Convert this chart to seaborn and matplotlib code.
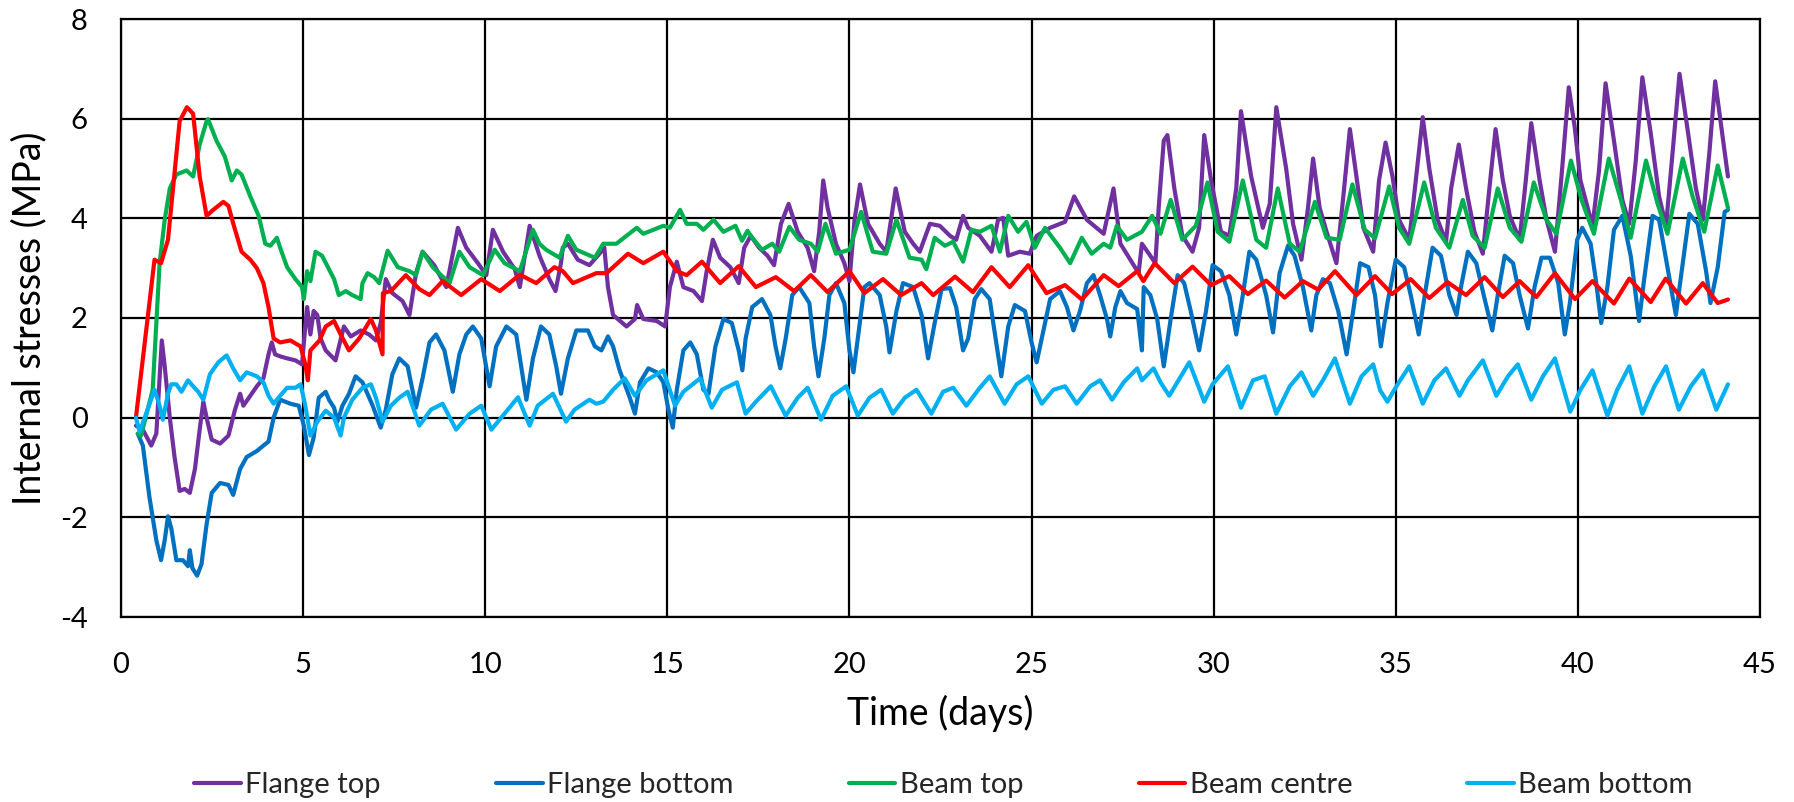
import numpy as np
import pandas as pd
import matplotlib
matplotlib.use("Agg")
import matplotlib.pyplot as plt
import seaborn as sns

# ---------------- data ----------------
series_names = ["Flange top", "Flange bottom", "Beam top", "Beam centre", "Beam bottom"]
series_colors = ["#7030A0", "#0070C0", "#00B050", "#FF0000", "#00B0F0"]

x_ticks = [0, 5, 10, 15, 20, 25, 30, 35, 40, 45]
y_ticks = [-4, -2, 0, 2, 4, 6, 8]

flange_top_t = [0.41, 0.6, 0.83, 0.97, 1.12, 1.2, 1.34, 1.47, 1.61, 1.75, 1.89, 2.03, 2.16, 2.26, 2.35, 2.49, 2.72, 2.95, 3.13, 3.27, 3.36, 3.55, 3.73, 3.91, 4.05, 4.14, 4.23, 4.37, 4.56, 4.79, 4.97, 5.06, 5.11, 5.2, 5.29, 5.39, 5.48, 5.62, 5.89, 6.12, 6.31, 6.58, 6.81, 7.0, 7.13, 7.27, 7.45, 7.73, 7.92, 8.1, 8.28, 8.6, 8.93, 9.06, 9.25, 9.48, 9.8, 10.03, 10.21, 10.49, 10.81, 10.95, 11.22, 11.49, 11.76, 11.93, 12.08, 12.13, 12.27, 12.54, 12.86, 13.09, 13.27, 13.37, 13.51, 13.88, 14.11, 14.17, 14.34, 14.71, 14.94, 15.07, 15.26, 15.44, 15.72, 15.95, 16.08, 16.25, 16.45, 16.73, 16.96, 17.11, 17.29, 17.52, 17.75, 17.93, 18.12, 18.33, 18.58, 18.85, 19.03, 19.17, 19.28, 19.4, 19.63, 19.86, 20.0, 20.14, 20.29, 20.51, 20.83, 21.01, 21.27, 21.52, 21.75, 21.93, 22.21, 22.48, 22.76, 22.93, 23.12, 23.26, 23.58, 23.9, 24.08, 24.22, 24.36, 24.68, 24.95, 25.14, 25.51, 25.92, 26.17, 26.52, 26.98, 27.25, 27.44, 27.71, 27.94, 28.03, 28.26, 28.4, 28.49, 28.63, 28.73, 28.92, 29.14, 29.42, 29.6, 29.74, 29.93, 30.2, 30.43, 30.62, 30.75, 31.03, 31.35, 31.54, 31.72, 31.99, 32.18, 32.41, 32.59, 32.73, 32.91, 33.1, 33.37, 33.56, 33.74, 33.92, 34.11, 34.38, 34.54, 34.72, 34.91, 35.09, 35.37, 35.55, 35.74, 35.92, 36.15, 36.38, 36.52, 36.73, 36.93, 37.16, 37.39, 37.57, 37.74, 37.94, 38.13, 38.4, 38.57, 38.72, 38.95, 39.14, 39.37, 39.55, 39.75, 39.92, 40.07, 40.4, 40.58, 40.76, 40.99, 41.22, 41.41, 41.59, 41.77, 42.0, 42.23, 42.42, 42.6, 42.79, 43.01, 43.24, 43.43, 43.61, 43.77, 43.93, 44.12]
flange_top_v = [-0.16, -0.24, -0.56, -0.32, 1.55, 1.03, 0.0, -0.79, -1.47, -1.43, -1.51, -1.03, -0.24, 0.32, 0.0, -0.44, -0.52, -0.36, 0.16, 0.48, 0.24, 0.44, 0.63, 0.79, 1.27, 1.51, 1.27, 1.23, 1.19, 1.15, 1.07, 1.83, 2.22, 1.67, 2.14, 2.06, 1.59, 1.35, 1.15, 1.83, 1.63, 1.75, 1.67, 1.55, 1.9, 2.78, 2.5, 2.34, 2.06, 2.9, 3.33, 3.06, 2.62, 3.1, 3.81, 3.41, 3.1, 2.86, 3.77, 3.33, 2.98, 2.62, 3.85, 3.25, 2.78, 2.54, 3.1, 3.41, 3.49, 3.17, 3.06, 3.25, 3.41, 2.62, 2.06, 1.83, 1.98, 2.26, 1.98, 1.94, 1.83, 2.62, 3.13, 2.62, 2.54, 2.34, 2.94, 3.57, 3.21, 3.02, 2.7, 3.41, 3.65, 3.41, 3.25, 3.06, 3.89, 4.29, 3.73, 3.41, 2.94, 3.73, 4.76, 4.21, 3.49, 3.1, 2.74, 3.97, 4.68, 3.89, 3.49, 3.33, 4.6, 3.73, 3.49, 3.33, 3.89, 3.85, 3.65, 3.57, 4.05, 3.81, 3.65, 3.33, 3.97, 4.01, 3.25, 3.33, 3.29, 3.65, 3.81, 3.93, 4.44, 3.97, 3.69, 4.6, 3.49, 3.17, 2.9, 3.49, 3.25, 3.1, 4.21, 5.56, 5.67, 4.6, 3.65, 3.33, 3.81, 5.67, 4.76, 3.73, 3.65, 4.6, 6.15, 4.84, 3.81, 4.29, 6.23, 5.0, 3.89, 3.17, 4.21, 5.2, 4.21, 3.73, 3.1, 4.44, 5.79, 4.84, 3.81, 3.33, 4.76, 5.52, 4.84, 3.97, 3.57, 4.76, 6.03, 5.0, 3.97, 3.53, 4.6, 5.48, 4.6, 3.73, 3.29, 4.6, 5.79, 4.76, 4.05, 3.57, 4.76, 5.91, 4.76, 3.97, 3.33, 4.84, 6.63, 5.79, 4.76, 3.85, 4.96, 6.71, 5.56, 4.37, 3.89, 5.16, 6.83, 5.71, 4.44, 3.85, 5.32, 6.9, 5.79, 4.6, 3.97, 5.32, 6.75, 5.87, 4.84]

flange_bottom_t = [0.46, 0.6, 0.78, 0.97, 1.1, 1.2, 1.29, 1.38, 1.52, 1.7, 1.84, 1.89, 1.96, 2.09, 2.21, 2.35, 2.49, 2.72, 2.95, 3.08, 3.27, 3.45, 3.73, 3.91, 4.05, 4.19, 4.37, 4.65, 4.88, 5.02, 5.16, 5.29, 5.43, 5.62, 5.71, 5.85, 5.94, 6.08, 6.26, 6.44, 6.63, 6.91, 7.13, 7.27, 7.45, 7.64, 7.87, 8.1, 8.28, 8.47, 8.65, 8.88, 9.11, 9.29, 9.48, 9.66, 9.89, 10.12, 10.3, 10.58, 10.85, 11.13, 11.31, 11.53, 11.76, 11.95, 12.08, 12.27, 12.5, 12.82, 13.01, 13.19, 13.37, 13.51, 13.69, 13.97, 14.11, 14.25, 14.48, 14.71, 14.89, 15.03, 15.15, 15.26, 15.44, 15.63, 15.81, 15.99, 16.13, 16.32, 16.54, 16.77, 16.96, 17.06, 17.15, 17.33, 17.6, 17.83, 17.97, 18.1, 18.25, 18.43, 18.62, 18.9, 19.03, 19.15, 19.31, 19.45, 19.63, 19.86, 20.0, 20.11, 20.23, 20.41, 20.55, 20.83, 21.01, 21.1, 21.29, 21.47, 21.75, 21.98, 22.16, 22.34, 22.53, 22.76, 22.93, 23.12, 23.26, 23.44, 23.62, 23.85, 24.03, 24.17, 24.36, 24.54, 24.82, 25.0, 25.14, 25.28, 25.51, 25.78, 25.97, 26.15, 26.33, 26.52, 26.7, 26.88, 27.07, 27.16, 27.3, 27.44, 27.62, 27.9, 28.03, 28.08, 28.26, 28.45, 28.63, 28.82, 29.01, 29.19, 29.37, 29.6, 29.79, 29.97, 30.2, 30.43, 30.62, 30.8, 30.98, 31.17, 31.44, 31.63, 31.81, 32.04, 32.22, 32.45, 32.68, 32.82, 33.0, 33.19, 33.42, 33.65, 33.83, 34.02, 34.25, 34.43, 34.59, 34.77, 35.0, 35.23, 35.41, 35.63, 35.83, 36.01, 36.24, 36.47, 36.67, 36.79, 36.98, 37.21, 37.44, 37.65, 37.8, 37.99, 38.22, 38.4, 38.63, 38.81, 39.0, 39.23, 39.46, 39.64, 39.78, 39.98, 40.12, 40.35, 40.49, 40.64, 40.81, 40.99, 41.22, 41.45, 41.68, 41.82, 42.05, 42.23, 42.46, 42.69, 42.88, 43.06, 43.29, 43.52, 43.64, 43.84, 44.03, 44.12]
flange_bottom_v = [-0.32, -0.56, -1.59, -2.46, -2.86, -2.46, -1.98, -2.22, -2.86, -2.86, -2.98, -2.66, -3.02, -3.17, -2.94, -2.14, -1.51, -1.31, -1.35, -1.55, -1.03, -0.79, -0.67, -0.56, -0.48, 0.0, 0.36, 0.28, 0.24, -0.16, -0.75, -0.4, 0.4, 0.52, 0.36, 0.2, -0.08, 0.24, 0.48, 0.83, 0.71, 0.24, -0.2, 0.16, 0.87, 1.19, 1.03, 0.2, 0.79, 1.51, 1.67, 1.35, 0.52, 1.27, 1.67, 1.83, 1.59, 0.63, 1.43, 1.83, 1.67, 0.36, 1.19, 1.83, 1.67, 1.03, 0.48, 1.19, 1.75, 1.75, 1.43, 1.35, 1.63, 1.43, 0.95, 0.4, 0.08, 0.71, 0.99, 0.91, 0.71, 0.16, -0.2, 0.56, 1.35, 1.51, 1.27, 0.56, 0.48, 1.43, 1.98, 1.9, 1.35, 0.95, 1.59, 2.22, 2.38, 2.06, 1.43, 0.99, 1.59, 2.46, 2.62, 2.3, 1.43, 0.83, 1.59, 2.46, 2.7, 2.3, 1.35, 0.91, 1.59, 2.62, 2.7, 2.46, 1.83, 1.31, 2.14, 2.7, 2.62, 2.06, 1.19, 1.9, 2.58, 2.6, 2.22, 1.35, 1.59, 2.38, 2.58, 2.38, 1.51, 0.83, 1.83, 2.26, 2.14, 1.51, 1.11, 1.59, 2.38, 2.54, 2.22, 1.75, 2.14, 2.7, 2.86, 2.46, 1.98, 1.63, 2.22, 2.54, 2.3, 2.18, 1.35, 2.62, 2.46, 1.98, 1.03, 1.98, 2.86, 2.7, 2.14, 1.35, 2.14, 3.06, 2.94, 2.46, 1.67, 2.46, 3.33, 3.17, 2.46, 1.71, 2.9, 3.45, 3.25, 2.62, 1.75, 2.46, 2.78, 2.7, 2.14, 1.27, 2.14, 3.1, 3.02, 2.46, 1.43, 2.3, 3.17, 3.02, 2.46, 1.67, 2.62, 3.41, 3.25, 2.46, 2.06, 2.62, 3.33, 3.1, 2.38, 1.75, 2.46, 3.25, 3.1, 2.46, 1.79, 2.62, 3.21, 3.21, 2.7, 1.67, 2.3, 3.57, 3.81, 3.49, 2.78, 1.9, 2.62, 3.77, 4.05, 3.25, 1.94, 2.78, 4.05, 3.97, 3.02, 2.06, 3.1, 4.09, 3.89, 2.94, 2.3, 3.02, 4.13, 4.17]

beam_top_t = [0.46, 0.55, 0.87, 1.06, 1.2, 1.34, 1.52, 1.8, 1.98, 2.16, 2.35, 2.39, 2.62, 2.85, 3.04, 3.18, 3.31, 3.55, 3.78, 3.96, 4.1, 4.28, 4.37, 4.56, 4.79, 4.97, 5.02, 5.11, 5.2, 5.34, 5.52, 5.85, 5.98, 6.17, 6.35, 6.58, 6.63, 6.77, 6.95, 7.09, 7.32, 7.6, 7.92, 8.1, 8.28, 8.56, 9.02, 9.29, 9.57, 9.94, 10.26, 10.53, 10.95, 11.31, 11.49, 11.67, 12.04, 12.27, 12.5, 13.01, 13.24, 13.6, 13.88, 14.16, 14.34, 14.89, 15.07, 15.35, 15.53, 15.81, 15.99, 16.27, 16.54, 16.87, 17.05, 17.2, 17.33, 17.6, 17.88, 18.07, 18.35, 18.62, 18.94, 19.13, 19.34, 19.63, 20.0, 20.32, 20.64, 21.01, 21.29, 21.65, 21.98, 22.11, 22.34, 22.62, 22.85, 23.12, 23.35, 23.58, 23.9, 24.13, 24.36, 24.63, 24.86, 25.09, 25.37, 25.78, 26.06, 26.38, 26.65, 26.98, 27.16, 27.34, 27.62, 28.03, 28.31, 28.54, 28.82, 29.14, 29.51, 29.83, 30.11, 30.43, 30.8, 31.17, 31.44, 31.76, 32.09, 32.36, 32.78, 33.1, 33.46, 33.81, 34.15, 34.43, 34.82, 35.09, 35.37, 35.78, 36.1, 36.47, 36.84, 37.11, 37.44, 37.8, 38.13, 38.45, 38.79, 39.14, 39.41, 39.81, 40.1, 40.44, 40.85, 41.18, 41.45, 41.87, 42.19, 42.46, 42.88, 43.15, 43.47, 43.84, 44.12]
beam_top_v = [-0.32, -0.36, 0.56, 3.1, 3.97, 4.6, 4.88, 4.96, 4.84, 5.48, 5.95, 5.99, 5.56, 5.24, 4.76, 4.96, 4.88, 4.44, 4.05, 3.49, 3.45, 3.61, 3.41, 3.02, 2.78, 2.62, 2.38, 2.94, 2.74, 3.33, 3.25, 2.78, 2.46, 2.54, 2.46, 2.38, 2.7, 2.9, 2.82, 2.7, 3.35, 3.02, 2.94, 2.86, 3.33, 3.02, 2.7, 3.33, 3.02, 2.86, 3.37, 3.1, 2.94, 3.77, 3.49, 3.37, 3.21, 3.65, 3.37, 3.21, 3.49, 3.49, 3.65, 3.81, 3.69, 3.85, 3.81, 4.17, 3.89, 3.89, 3.77, 3.97, 3.73, 3.85, 3.55, 3.75, 3.61, 3.37, 3.49, 3.33, 3.83, 3.57, 3.49, 3.33, 3.89, 3.29, 3.37, 4.13, 3.33, 3.29, 3.97, 3.21, 3.17, 2.98, 3.61, 3.45, 3.53, 3.13, 3.77, 3.73, 3.85, 3.33, 4.05, 3.73, 3.93, 3.41, 3.81, 3.41, 3.1, 3.61, 3.29, 3.49, 3.41, 3.85, 3.57, 3.73, 4.05, 3.69, 4.37, 3.57, 3.85, 4.72, 3.73, 3.53, 4.76, 3.57, 3.41, 4.6, 3.49, 3.33, 4.33, 3.61, 3.57, 4.68, 3.77, 3.6, 4.64, 3.81, 3.49, 4.72, 3.81, 3.41, 4.37, 3.65, 3.41, 4.6, 3.81, 3.53, 4.72, 3.97, 3.69, 5.16, 4.37, 3.69, 5.2, 4.37, 3.61, 5.16, 4.29, 3.69, 5.2, 4.44, 3.73, 5.06, 4.21]

beam_centre_t = [0.41, 0.92, 1.1, 1.29, 1.61, 1.81, 1.98, 2.16, 2.35, 2.53, 2.81, 2.95, 3.08, 3.31, 3.55, 3.73, 3.91, 4.05, 4.19, 4.37, 4.65, 4.93, 5.06, 5.13, 5.2, 5.3, 5.45, 5.62, 5.85, 6.03, 6.26, 6.54, 6.86, 7.0, 7.18, 7.19, 7.41, 7.82, 8.19, 8.47, 8.83, 9.34, 9.89, 10.4, 10.95, 11.4, 11.9, 12.13, 12.41, 13.05, 13.33, 13.92, 14.34, 14.89, 15.26, 15.53, 15.95, 16.45, 16.96, 17.43, 17.98, 18.48, 18.94, 19.4, 20.0, 20.41, 20.92, 21.42, 21.98, 22.3, 22.9, 23.39, 23.9, 24.4, 24.91, 25.41, 25.92, 26.38, 26.98, 27.39, 27.9, 28.07, 28.38, 28.92, 29.42, 29.93, 30.43, 30.94, 31.44, 31.95, 32.45, 32.87, 33.33, 33.92, 34.43, 34.9, 35.41, 35.92, 36.42, 36.93, 37.44, 37.94, 38.4, 38.86, 39.37, 39.92, 40.4, 40.99, 41.41, 42.0, 42.41, 42.97, 43.43, 43.84, 44.12]
beam_centre_v = [0.0, 3.17, 3.1, 3.57, 5.95, 6.23, 6.1, 4.84, 4.05, 4.17, 4.33, 4.25, 3.9, 3.33, 3.17, 3.0, 2.7, 2.22, 1.59, 1.51, 1.55, 1.43, 1.07, 0.75, 1.35, 1.43, 1.55, 1.83, 1.94, 1.67, 1.35, 1.59, 1.98, 1.75, 1.27, 2.5, 2.54, 2.86, 2.58, 2.46, 2.74, 2.46, 2.78, 2.54, 2.87, 2.7, 3.02, 2.94, 2.7, 2.9, 2.9, 3.29, 3.1, 3.33, 2.94, 2.86, 3.13, 2.7, 3.04, 2.62, 2.82, 2.54, 2.86, 2.52, 2.94, 2.5, 2.78, 2.46, 2.7, 2.46, 2.83, 2.52, 3.02, 2.62, 3.06, 2.5, 2.66, 2.37, 2.86, 2.64, 2.94, 2.74, 3.1, 2.7, 3.03, 2.66, 2.84, 2.48, 2.75, 2.41, 2.74, 2.57, 2.94, 2.46, 2.84, 2.48, 2.78, 2.4, 2.72, 2.46, 2.82, 2.42, 2.74, 2.42, 2.9, 2.38, 2.74, 2.29, 2.79, 2.32, 2.79, 2.29, 2.7, 2.3, 2.37]

beam_bottom_t = [0.41, 0.51, 0.69, 0.92, 1.06, 1.15, 1.29, 1.38, 1.52, 1.66, 1.84, 1.98, 2.12, 2.26, 2.44, 2.67, 2.9, 3.08, 3.27, 3.45, 3.73, 3.91, 4.05, 4.19, 4.37, 4.56, 4.79, 4.93, 5.06, 5.2, 5.39, 5.62, 5.85, 6.03, 6.12, 6.35, 6.63, 6.86, 7.0, 7.18, 7.41, 7.64, 7.87, 8.19, 8.51, 8.83, 9.2, 9.57, 9.89, 10.17, 10.53, 10.9, 11.22, 11.44, 11.86, 12.22, 12.45, 12.86, 13.05, 13.24, 13.51, 13.83, 14.11, 14.43, 14.89, 15.21, 15.44, 15.9, 16.22, 16.5, 16.91, 17.15, 17.43, 17.84, 18.25, 18.58, 18.85, 19.22, 19.54, 19.91, 20.23, 20.55, 20.87, 21.19, 21.52, 21.84, 22.25, 22.57, 22.85, 23.21, 23.58, 23.85, 24.26, 24.59, 24.91, 25.28, 25.6, 25.92, 26.24, 26.61, 26.88, 27.21, 27.53, 27.9, 28.03, 28.35, 28.54, 28.78, 29.33, 29.74, 29.97, 30.39, 30.75, 31.08, 31.4, 31.72, 32.09, 32.41, 32.73, 33.0, 33.33, 33.74, 34.06, 34.38, 34.57, 34.77, 35.05, 35.37, 35.74, 36.06, 36.38, 36.75, 36.98, 37.39, 37.76, 38.08, 38.35, 38.72, 39.04, 39.37, 39.79, 40.07, 40.4, 40.81, 41.08, 41.41, 41.77, 42.1, 42.42, 42.77, 43.1, 43.43, 43.8, 44.12]
beam_bottom_v = [0.0, -0.28, 0.08, 0.56, 0.24, -0.04, 0.48, 0.67, 0.67, 0.52, 0.75, 0.63, 0.52, 0.36, 0.87, 1.11, 1.25, 0.99, 0.75, 0.91, 0.83, 0.71, 0.44, 0.28, 0.44, 0.6, 0.6, 0.67, 0.24, -0.36, -0.08, 0.14, 0.0, -0.36, 0.0, 0.36, 0.6, 0.67, 0.4, -0.08, 0.24, 0.4, 0.52, -0.16, 0.16, 0.28, -0.24, 0.08, 0.24, -0.24, 0.08, 0.41, -0.16, 0.24, 0.48, -0.08, 0.16, 0.36, 0.28, 0.32, 0.56, 0.79, 0.44, 0.75, 0.95, 0.24, 0.52, 0.79, 0.2, 0.56, 0.71, 0.08, 0.32, 0.63, 0.04, 0.4, 0.6, -0.04, 0.44, 0.63, 0.04, 0.4, 0.56, 0.08, 0.4, 0.56, 0.08, 0.52, 0.6, 0.24, 0.6, 0.83, 0.28, 0.67, 0.83, 0.28, 0.56, 0.63, 0.28, 0.63, 0.75, 0.36, 0.71, 0.99, 0.75, 0.99, 0.71, 0.44, 1.11, 0.32, 0.67, 1.03, 0.2, 0.75, 0.83, 0.08, 0.63, 0.91, 0.44, 0.75, 1.19, 0.28, 0.83, 1.07, 0.55, 0.32, 0.67, 1.03, 0.28, 0.75, 0.99, 0.44, 0.75, 1.15, 0.44, 0.83, 1.07, 0.36, 0.83, 1.19, 0.12, 0.56, 0.95, 0.04, 0.56, 1.03, 0.08, 0.63, 1.03, 0.16, 0.63, 0.95, 0.16, 0.67]

# ---------------- long-form table for seaborn ----------------
frames = []
for name, t, v in zip(series_names,
                      [flange_top_t, flange_bottom_t, beam_top_t, beam_centre_t, beam_bottom_t],
                      [flange_top_v, flange_bottom_v, beam_top_v, beam_centre_v, beam_bottom_v]):
    frames.append(pd.DataFrame({"Time (days)": t, "Stress": v, "Series": name}))
df = pd.concat(frames, ignore_index=True)

# ---------------- style ----------------
sns.set_theme(style="white")
plt.rcParams["font.family"] = ["Lato", "DejaVu Sans"]
plt.rcParams["axes.unicode_minus"] = False

W, H = 1794, 802
fig = plt.figure(figsize=(W / 100, H / 100), dpi=100)
left, right, top, bottom = 121, 1760, 19, 617
ax = fig.add_axes([left / W, 1 - bottom / H, (right - left) / W, (bottom - top) / H])

sns.lineplot(data=df, x="Time (days)", y="Stress", hue="Series", hue_order=series_names,
             palette=series_colors, estimator=None, sort=False, linewidth=3.0,
             solid_joinstyle="round", solid_capstyle="round",
             ax=ax, legend=True)

ax.set_xlim(0, 45)
ax.set_ylim(-4, 8)
ax.set_xticks(x_ticks)
ax.set_yticks(y_ticks)
ax.grid(True, color="black", linewidth=1.6)
ax.set_axisbelow(True)
for sp in ax.spines.values():
    sp.set_visible(True)
    sp.set_color("black")
    sp.set_linewidth(1.6)
ax.tick_params(axis="both", length=0, labelsize=21, colors="black")
ax.tick_params(axis="x", pad=25)
ax.tick_params(axis="y", pad=24)

ax.set_xlabel("Time (days)", fontsize=27, color="black")
ax.set_ylabel("Internal stresses (MPa)", fontsize=27, color="black")
ax.xaxis.set_label_coords(0.5, -0.13)
ax.yaxis.set_label_coords(-0.045, 0.5)

handles, labels = ax.get_legend_handles_labels()
for h in handles:
    h.set_linewidth(3.0)
ax.get_legend().remove()
fig.legend(handles, labels, loc="center", bbox_to_anchor=(0.526, 0.021), ncol=5,
           frameon=False, fontsize=21, handlelength=1.6, handletextpad=0.15,
           columnspacing=3.95)

fig.savefig("out.png", dpi=100, facecolor="white")
